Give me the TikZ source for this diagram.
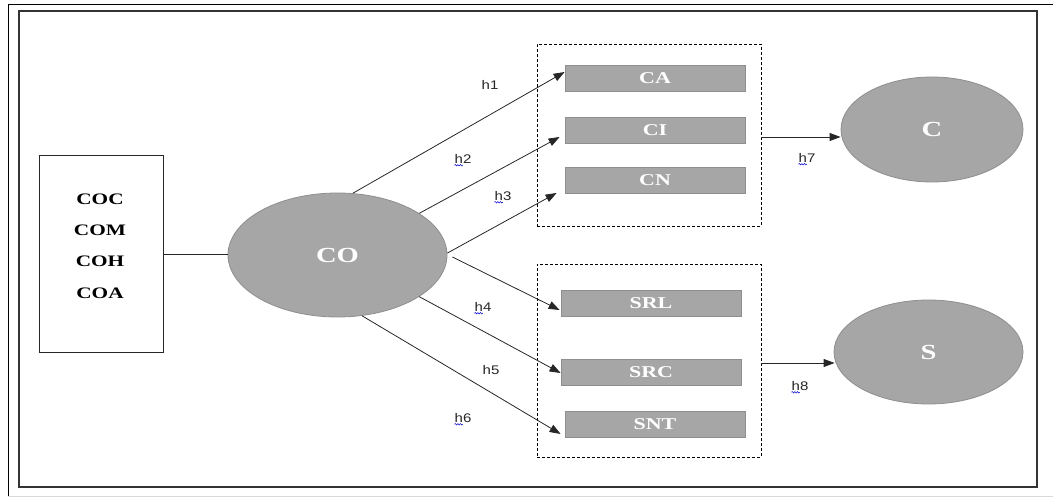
\documentclass[tikz,border=0pt]{standalone}
\usepackage{fontspec}
\setmainfont{Liberation Serif}
\newfontfamily\wideserif[FakeStretch=1.33]{Liberation Serif}
\newfontfamily\labfont[FakeStretch=1.2]{Liberation Sans}
\usetikzlibrary{arrows.meta,calc,decorations.pathmorphing,shapes.geometric}
\definecolor{fillgray}{HTML}{A6A6A6}
\definecolor{edgegray}{HTML}{8E8E8E}
\begin{document}
\begin{tikzpicture}[x=1pt,y=-1pt,
  ell/.style={ellipse,draw=edgegray,line width=0.8pt,fill=fillgray,inner sep=0pt,text=white,font=\wideserif\bfseries\fontsize{21.5}{24}\selectfont},
  bar/.style={rectangle,draw=edgegray,line width=0.8pt,fill=fillgray,inner sep=0pt,minimum width=180pt,minimum height=26pt,text=white,font=\wideserif\bfseries\fontsize{16.5}{18}\selectfont},
  grp/.style={rectangle,draw=black,dashed,dash pattern=on 3pt off 2pt,line width=0.8pt,inner sep=0pt,minimum width=224pt},
  conn/.style={draw=black!85,line width=0.8pt},
  arr/.style={conn,-{Triangle[length=11pt,width=8pt]}},
  hlab/.style={font=\labfont\fontsize{12.5}{14}\selectfont,inner sep=0pt,text=black!85},
  squig/.style={draw=blue!80!black,line width=0.5pt,decorate,decoration={snake,amplitude=0.7pt,segment length=2.6pt}},
  item/.style={font=\wideserif\bfseries\fontsize{16}{18}\selectfont,inner sep=0pt}]
\useasboundingbox (0,0) rectangle (1053,497);
% outer frame
\draw[black,line width=0.9pt] (8,497) -- (8,4) -- (1053,4);
\draw[black!15,line width=1pt] (8,496.3) -- (1053,496.3);
% inner frame
\draw[black!80,line width=1.3pt] (19,11) rectangle (1037,487);
% left box
\node[draw=black!85,line width=0.8pt,minimum width=124pt,minimum height=197pt,inner sep=0pt] (L) at (101,253.5) {};
\node[item] (coc) at (100,199) {COC};
\node[item] (com) at (100,230) {COM};
\node[item] (coh) at (100,261) {COH};
\node[item] (coa) at (100,293) {COA};
% CO
\node[ell,minimum width=219pt,minimum height=124pt] (CO) at (337.5,255) {CO};
\draw[conn] (L.east |- 0,254) -- (CO.west |- 0,254);
% groups
\node[grp,minimum height=182pt] (G1) at (649,135) {};
\node[grp,minimum height=193pt] (G2) at (649,360.5) {};
\node[bar] (CA) at (655,78) {CA};
\node[bar] (CI) at (655,130) {CI};
\node[bar] (CN) at (655,180.5) {CN};
\node[bar] (SRL) at (651,303.5) {SRL};
\node[bar] (SRC) at (651,372) {SRC};
\node[bar] (SNT) at (655,424.5) {SNT};
% outcomes
\node[ell,minimum width=182pt,minimum height=105pt] (C) at (932,129.5) {C};
\node[ell,minimum width=189pt,minimum height=104pt] (S) at (928.5,352) {S};
% arrows
\draw[arr] (CO.76) -- ([yshift=6pt]CA.west);
\draw[arr] (CO.27) -- ([xshift=-5pt,yshift=-7pt]CI.west);
\draw[arr] (CO.1) -- ([xshift=-8pt,yshift=-12.5pt]CN.west);
\draw[arr] ([xshift=5pt,yshift=-2pt]CO.east) -- ([xshift=-1pt,yshift=-6.5pt]SRL.west);
\draw[arr] (CO.-27) -- ([yshift=-1pt]SRC.west);
\draw[arr] (CO.-68) -- ([xshift=-4pt,yshift=-9.5pt]SNT.west);
\draw[arr] ([yshift=-2pt]G1.east) -- ([yshift=-2pt]G1.east -| C.west);
\draw[arr] ([yshift=-2.5pt]G2.east) -- ([yshift=-2.5pt,xshift=1pt]G2.east -| S.west);
% labels
\node[hlab] (h1) at (490,85) {h1};
\node[hlab] (h2) at (463,159) {h2};
\node[hlab] (h3) at (503,196) {h3};
\node[hlab] (h4) at (483,307) {h4};
\node[hlab] (h5) at (491,370) {h5};
\node[hlab] (h6) at (463,418) {h6};
\node[hlab] (h7) at (807,158) {h7};
\node[hlab] (h8) at (800,386) {h8};
\foreach \n in {h2,h3,h4,h6,h7,h8}{
  \draw[squig] ([yshift=-1.5pt]\n.south west) -- ([xshift=8.5pt,yshift=-1.5pt]\n.south west);
}
\end{tikzpicture}
\end{document}
